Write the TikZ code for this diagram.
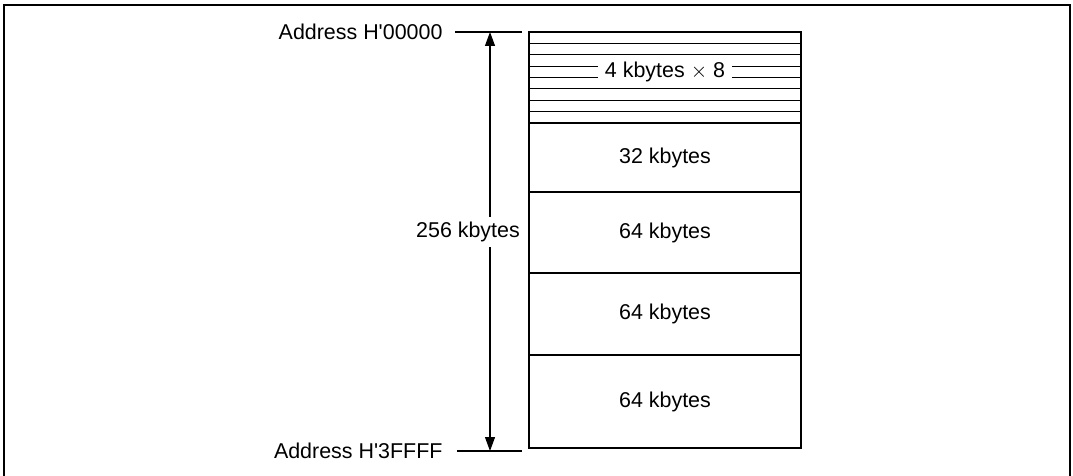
\documentclass[tikz,border=0pt]{standalone}
\usepackage{fontspec}
\setmainfont{Liberation Sans}
\usetikzlibrary{arrows.meta}
\tikzset{lbl/.style={font=\fontsize{12.2}{14}\selectfont,inner sep=0pt},
  blank/.style={lbl,fill=white}}
\begin{document}
\begin{tikzpicture}[x=0.02cm,y=-0.02cm,line width=0.6pt]
  \useasboundingbox (0,0) rectangle (1073,476);
  \draw[line width=1.2pt] (4,480)--(4,5)--(1070,5)--(1070,480);
  % memory map
  \draw (529,32) rectangle (801,448);
  \foreach \i in {1,...,8} \draw (529,{32+\i*11.375})--(801,{32+\i*11.375});
  \foreach \y in {192,273,355} \draw (529,\y)--(801,\y);
  \node[blank,inner xsep=0.14cm] (k4) at (665,71.8) {4 kbytes $\times$ 8};
  \node[lbl] (k32) at (665,157.5) {32 kbytes};
  \node[lbl] (k64a) at (665,232.5) {64 kbytes};
  \node[lbl] (k64b) at (665,314) {64 kbytes};
  \node[lbl] (k64c) at (665,401.5) {64 kbytes};
  % addresses
  \node[lbl,anchor=east] (addtop) at (443,32) {Address H\textquotesingle 00000};
  \node[lbl,anchor=east] (addbot) at (443,451) {Address H\textquotesingle 3FFFF};
  \coordinate (ttop) at (522,32); \coordinate (tbot) at (522,451);
  \draw ([xshift=0.24cm]addtop.east)--(ttop);
  \draw ([xshift=0.28cm]addbot.east)--(tbot);
  \coordinate (atop) at (490,32); \coordinate (abot) at (490,451);
  \draw[{Triangle[length=0.28cm,width=0.2cm]}-{Triangle[length=0.28cm,width=0.2cm]}] (atop)--(abot);
  \node[blank,inner ysep=0.1cm] (total) at (468,232) {256 kbytes};
\end{tikzpicture}
\end{document}
